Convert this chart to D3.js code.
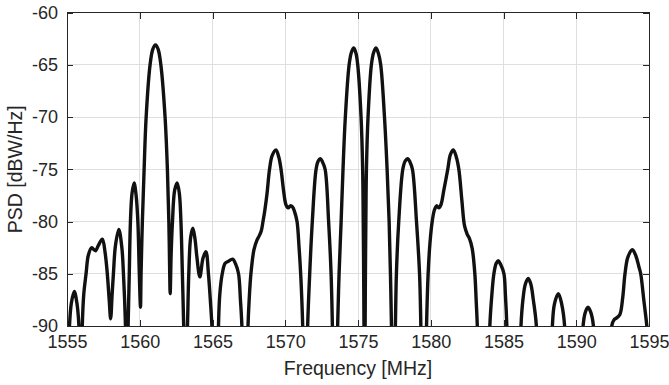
<!DOCTYPE html>
<meta charset="utf-8">
<style>
  body { margin: 0; background: #fff; }
  text { font-family: "Liberation Sans", Arial, Helvetica, sans-serif; fill: #262626; }
  .grid line { stroke: #dfdfdf; stroke-width: 1px; shape-rendering: crispEdges; }
  .axis path { display: none; }
  .axis line { stroke: #262626; shape-rendering: crispEdges; }
  .axis text { font-size: 18px; }
  .psd { fill: none; stroke: #111; stroke-width: 3.4px; stroke-linejoin: round; }
</style>
<svg width="669" height="385"></svg>
<script src="https://cdn.jsdelivr.net/npm/d3@7"></script>
<script>

  // frequency [MHz] / PSD [dBW/Hz]
  // (values below -90 only shape the clipped nulls)
  var freq = [
    1555.0, 1555.17, 1555.3, 1555.5, 1555.68, 1555.82, 1555.92,
    1555.97, 1556.05, 1556.15, 1556.31, 1556.47, 1556.7, 1556.85, 1556.97, 1557.15, 1557.43, 1557.62, 1557.77, 1557.9, 1558.0,
    1558.1, 1558.19, 1558.33, 1558.56, 1558.77, 1558.88, 1559.02, 1559.1,
    1559.2, 1559.28, 1559.36, 1559.47, 1559.61, 1559.75, 1559.87, 1559.97, 1560.05,
    1560.09, 1560.18, 1560.3, 1560.44, 1560.71, 1560.9, 1561.08, 1561.26, 1561.45, 1561.74, 1561.9, 1562.0, 1562.06, 1562.09,
    1562.16, 1562.25, 1562.4, 1562.57, 1562.72, 1562.83, 1562.93, 1563.02, 1563.12,
    1563.28, 1563.37, 1563.5, 1563.65, 1563.8, 1563.92, 1564.13, 1564.35, 1564.55, 1564.72, 1564.85, 1564.96, 1565.12,
    1565.3, 1565.41, 1565.5, 1565.67, 1565.87, 1566.1, 1566.38, 1566.6, 1566.79, 1566.92, 1567.02, 1567.13,
    1567.35, 1567.44, 1567.52, 1567.64, 1567.85, 1568.05, 1568.2, 1568.35, 1568.47, 1568.6, 1568.75, 1568.92, 1569.1, 1569.36,
    1569.55, 1569.71, 1569.89, 1570.05, 1570.2, 1570.35, 1570.5, 1570.65, 1570.81, 1570.95, 1571.06, 1571.2, 1571.3,
    1571.45, 1571.54, 1571.68, 1571.86, 1572.12, 1572.27, 1572.41, 1572.56, 1572.74, 1572.98, 1573.15, 1573.24, 1573.33,
    1573.5, 1573.6, 1573.7, 1573.84, 1573.97, 1574.13, 1574.39, 1574.55, 1574.71, 1574.86, 1574.98, 1575.21, 1575.32, 1575.36, 1575.39, 1575.41,
    1575.45, 1575.49, 1575.51, 1575.54, 1575.58, 1575.69, 1575.92, 1576.08, 1576.24, 1576.4, 1576.56, 1576.82, 1577.0, 1577.14, 1577.23, 1577.3, 1577.38,
    1577.48, 1577.57, 1577.64, 1577.8, 1578.08, 1578.25, 1578.42, 1578.57, 1578.74, 1579.02, 1579.23, 1579.32, 1579.41,
    1579.62, 1579.71, 1579.82, 1579.95, 1580.1, 1580.25, 1580.4, 1580.55, 1580.7, 1580.9, 1581.17, 1581.35, 1581.55,
    1581.75, 1581.93, 1582.14, 1582.32, 1582.5, 1582.65, 1582.85, 1583.03, 1583.12, 1583.2, 1583.3,
    1583.95, 1584.06, 1584.2, 1584.34, 1584.5, 1584.64, 1584.8, 1585.03, 1585.13, 1585.23, 1585.33,
    1586.1, 1586.2, 1586.35, 1586.5, 1586.7, 1586.88, 1587.05, 1587.26, 1587.36,
    1588.26, 1588.36, 1588.5, 1588.77, 1589.0, 1589.2, 1589.3,
    1590.37, 1590.47, 1590.62, 1590.81, 1591.0, 1591.18, 1591.28,
    1592.35, 1592.44, 1592.6, 1592.8, 1593.0, 1593.2, 1593.35, 1593.55, 1593.86, 1594.1, 1594.3, 1594.43, 1594.65, 1594.85, 1595.0
  ];

  var psd = [
    -97, -90, -87.8, -86.7, -87.8, -90, -97,
    -97, -90, -87, -85, -83.2, -82.5, -82.7, -82.8, -82.3, -81.7, -83, -85, -87.5, -89.3,
    -87, -85, -82.3, -80.75, -82.5, -85, -90, -97,
    -90, -85, -80, -77.3, -76.3, -77.5, -80, -85, -88.2,
    -85, -80, -75, -70, -65, -63.5, -63.1, -63.5, -65, -70, -75, -80, -85, -86.9,
    -83, -80, -77, -76.3, -77.3, -80, -85, -90, -97,
    -90, -85, -81.5, -80.65, -81.7, -83.3, -85.3, -83.5, -82.9, -85, -87.5, -90, -97,
    -97, -90, -87, -85, -84.0, -83.8, -83.6, -84.1, -85, -87.5, -90, -97,
    -97, -90, -87.5, -85, -82.7, -81.8, -81.4, -80.9, -80, -78.9, -77.3, -75, -73.7, -73.15,
    -73.8, -75, -77.1, -78.4, -78.7, -78.5, -78.6, -79.1, -80, -82.5, -85, -90, -97,
    -97, -90, -85, -80, -75, -74.2, -74.0, -74.3, -75, -80, -85, -90, -97,
    -97, -90, -85, -80, -75, -70, -65, -63.8, -63.4, -63.9, -65, -70, -75, -80, -85, -90,
    -100, -90, -85, -80, -75, -70, -65, -63.8, -63.4, -63.9, -65, -70, -75, -80, -85, -90, -97,
    -97, -90, -85, -80, -75, -74.2, -74.0, -74.3, -75, -80, -85, -90, -97,
    -97, -90, -85, -82, -80, -78.9, -78.5, -78.7, -78.4, -77, -75, -73.6, -73.15,
    -73.8, -75, -78, -80.4, -81.2, -81.6, -82.6, -85, -87.5, -90, -97,
    -97, -90, -87, -85, -84, -83.75, -84.1, -85, -87, -90, -97,
    -97, -90, -87.3, -86, -85.45, -86, -87.5, -90, -97,
    -97, -90, -87.9, -86.9, -87.9, -90, -97,
    -97, -90, -88.7, -88.2, -88.7, -90, -97,
    -97, -90, -89.4, -89.2, -88.9, -87.2, -85, -83.4, -82.7, -83.3, -84.3, -85, -87.6, -90, -93
  ];

  var xTicks = [1555, 1560, 1565, 1570, 1575, 1580, 1585, 1590, 1595];
  var yTicks = [-90, -85, -80, -75, -70, -65, -60];

  var svg = d3.select("svg"),
  margin = {top: 12.5, right: 20, bottom: 59, left: 67},
  width = +svg.attr("width") - margin.left - margin.right,
  height = +svg.attr("height") - margin.top - margin.bottom;

  var x = d3.scaleLinear().domain([1555, 1595]).range([0, width]);
  var y = d3.scaleLinear().domain([-90, -60]).range([height, 0]);

  var g = svg.append("g").attr("transform", "translate(" + margin.left + "," + margin.top + ")");

  svg.append("clipPath").attr("id", "plot")
  .append("rect").attr("width", width).attr("height", height);

  // grid
  var grid = g.append("g").attr("class", "grid");
  grid.selectAll(".gx").data(xTicks).enter().append("line")
  .attr("x1", d => x(d)).attr("x2", d => x(d))
  .attr("y1", 0).attr("y2", height);
  grid.selectAll(".gy").data(yTicks).enter().append("line")
  .attr("x1", 0).attr("x2", width)
  .attr("y1", d => y(d)).attr("y2", d => y(d));

  var points = freq.map(function(f, i) { return [f, psd[i]]; });

  var line = d3.line()
  .x(d => x(d[0]))
  .y(d => y(d[1]))
  .curve(d3.curveCatmullRom.alpha(0.5));

  g.append("path")
  .datum(points)
  .attr("class", "psd")
  .attr("clip-path", "url(#plot)")
  .attr("d", line);

  // axes, ticks pointing inward on all sides
  g.append("g").attr("class", "axis")
  .attr("transform", "translate(0," + height + ")")
  .call(d3.axisBottom(x).tickValues(xTicks).tickFormat(d3.format("d")).tickSizeInner(-6).tickSizeOuter(0).tickPadding(9));
  g.append("g").attr("class", "axis")
  .call(d3.axisTop(x).tickValues(xTicks).tickFormat("").tickSizeInner(-6).tickSizeOuter(0));
  g.append("g").attr("class", "axis")
  .call(d3.axisLeft(y).tickValues(yTicks).tickFormat(d3.format("d")).tickSizeInner(-6).tickSizeOuter(0).tickPadding(9));
  g.append("g").attr("class", "axis")
  .attr("transform", "translate(" + width + ",0)")
  .call(d3.axisRight(y).tickValues(yTicks).tickFormat("").tickSizeInner(-6).tickSizeOuter(0));

  g.selectAll(".axis text").text(function() { return this.textContent.replace("\u2212", "-"); });

  g.append("rect")
  .attr("width", width).attr("height", height)
  .attr("fill", "none").attr("stroke", "#262626").attr("stroke-width", 1)
  .attr("shape-rendering", "crispEdges");

  svg.append("text")
  .attr("x", margin.left + width / 2).attr("y", 375)
  .attr("text-anchor", "middle")
  .style("font-size", "19.5px")
  .text("Frequency [MHz]");

  svg.append("text")
  .attr("transform", "translate(22," + (margin.top + height / 2) + ") rotate(-90)")
  .attr("text-anchor", "middle")
  .style("font-size", "19.5px")
  .text("PSD [dBW/Hz]");

</script>
